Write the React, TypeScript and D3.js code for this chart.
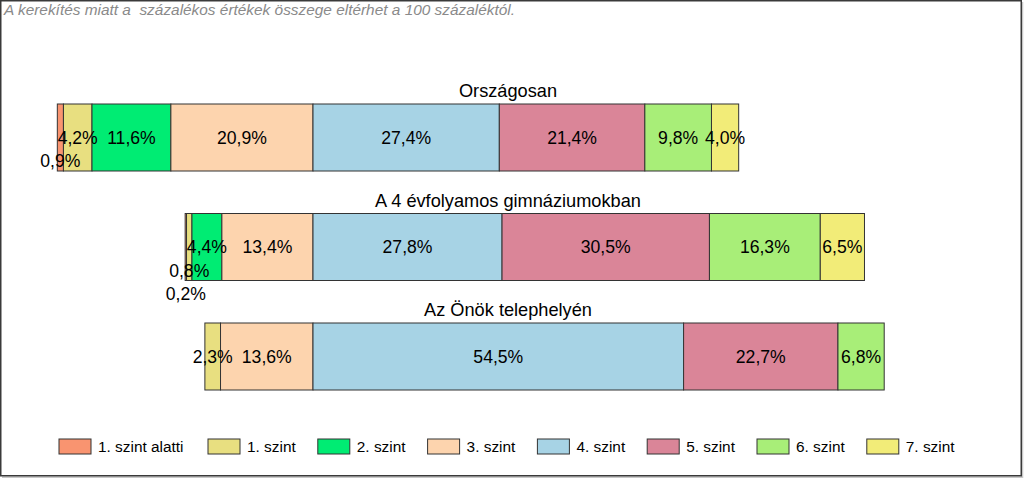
import React from "react";
import * as d3 from "d3";

const levels = ["1. szint alatti", "1. szint", "2. szint", "3. szint", "4. szint", "5. szint", "6. szint", "7. szint"];
const levelColors = ["#F99470", "#E8DF80", "#00EC73", "#FDD4AE", "#A7D3E5", "#DA8598", "#A8EE78", "#F2EC78"];
const groups = ["Országosan", "A 4 évfolyamos gimnáziumokban", "Az Önök telephelyén"];
const valuesOrszagos = [0.9, 4.2, 11.6, 20.9, 27.4, 21.4, 9.8, 4.0];
const valuesGimn = [0.2, 0.8, 4.4, 13.4, 27.8, 30.5, 16.3, 6.5];
const valuesTelep = [0, 2.3, 0, 13.6, 54.5, 22.7, 6.8, 0];
const allValues = [valuesOrszagos, valuesGimn, valuesTelep];
const note = "A kerekítés miatt a  százalékos értékek összege eltérhet a 100 százaléktól.";

const W = 1024;
const H = 478;
const splitIndex = 4; // bars aligned at boundary between 3. and 4. szint

const fmt = (v: number) => v.toFixed(1).replace(".", ",") + "%";

export default function App() {
  const x = d3.scaleLinear().domain([-40, 90]).range([41, 925]);
  const bh = 67;
  const step = 109.5;
  // legend: first item wider because of longer label
  const legendWidths = levels.map((_, i) => (i === 0 ? 149 : 109.8));
  const legendPos = legendWidths.map((_, i) => 59 + d3.sum(legendWidths.slice(0, i)));

  return (
    <svg width={W} height={H} style={{ position: "absolute", left: 0, top: 0, fontFamily: "'Liberation Sans', Arial, sans-serif" }}>
      <rect x={0} y={0} width={W} height={H} fill="#fff" />
      <line x1={1022.5} y1={2} x2={1022.5} y2={478} stroke="#c8c8c8" strokeWidth={1.5} />
      <line x1={2} y1={477.2} x2={1023} y2={477.2} stroke="#c8c8c8" strokeWidth={1.5} />
      <rect x={0.75} y={0.75} width={1020.5} height={475} fill="none" stroke="#3a3a3a" strokeWidth={1.5} />
      <text x={4} y={15} fontSize={15.4} fontStyle="italic" fill="#8a8a8a" style={{ whiteSpace: "pre" }}>{note}</text>
      {allValues.map((vals, gi) => {
        const top = 104 + gi * step;
        const leftSum = d3.sum(vals.slice(0, splitIndex));
        let cum = -leftSum;
        const segs = vals.map((v, i) => {
          const s = { v, i, x0: cum, x1: cum + v };
          cum += v;
          return s;
        });
        const cy = top + bh / 2;
        return (
          <g key={gi}>
            <text x={508} y={top - 7} textAnchor="middle" fontSize={18.2} fill="#000">{groups[gi]}</text>
            {segs.filter(s => s.v > 0).map(s => (
              <rect key={s.i} x={x(s.x0)} y={top} width={x(s.x1) - x(s.x0)} height={bh}
                fill={levelColors[s.i]} stroke="#333" strokeWidth={1} />
            ))}
            {segs.filter(s => s.v > 0).map(s => {
              const shiftLevels = s.v < 1 ? segs.filter(o => o.i >= s.i && o.v > 0 && o.v < 1).length : 0;
              return (
                <text key={"t" + s.i} x={(x(s.x0) + x(s.x1)) / 2} y={cy + shiftLevels * 23.5}
                  textAnchor="middle" dominantBaseline="central" fontSize={17.6} fill="#000">{fmt(s.v)}</text>
              );
            })}
          </g>
        );
      })}
      {levels.map((name, i) => (
        <g key={name} transform={`translate(${legendPos[i]},439)`}>
          <rect x={0} y={0} width={32} height={15} fill={levelColors[i]} stroke="#333" strokeWidth={1} />
          <text x={39} y={7.5} dominantBaseline="central" fontSize={15.4} fill="#000">{name}</text>
        </g>
      ))}
    </svg>
  );
}
